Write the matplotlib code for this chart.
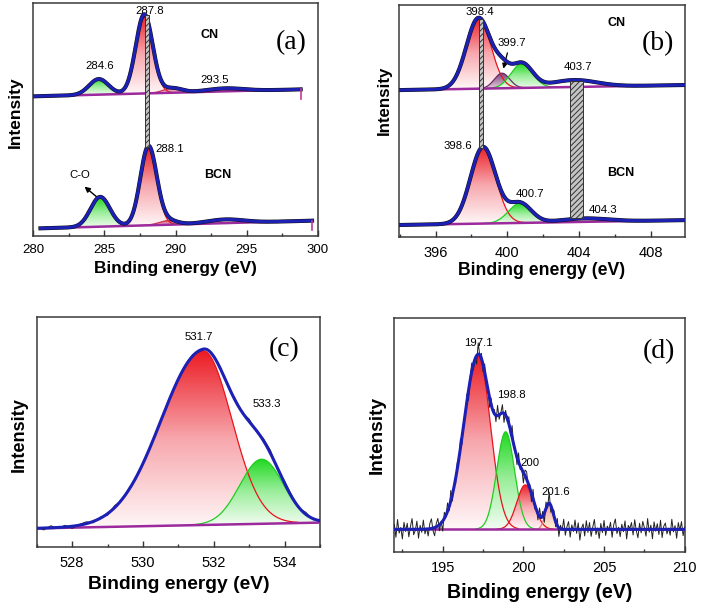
import numpy as np
import matplotlib.pyplot as plt
from matplotlib.colors import LinearSegmentedColormap
from matplotlib.patches import Polygon, Rectangle
from matplotlib.ticker import MultipleLocator

plt.rcParams['font.family'] = ['Liberation Sans', 'DejaVu Sans']
plt.rcParams['hatch.linewidth'] = 0.7

# (a) C 1s -- fitted components: position (eV), height, fwhm
a_cn_pos = [284.6, 287.8, 289.8, 293.5]
a_cn_height = [6.7, 34.0, 2.0, 1.3]
a_cn_fwhm = [1.6, 1.4, 1.5, 3.0]
a_cn_base = [60.0, 63.0]
a_cn_span = [280.0, 298.8]

a_bcn_pos = [284.7, 288.1, 289.5, 293.5]
a_bcn_height = [12.8, 34.0, 1.8, 1.6]
a_bcn_fwhm = [1.6, 1.35, 1.5, 3.0]
a_bcn_base = [3.3, 6.6]
a_bcn_span = [280.5, 299.6]

# (b) N 1s
b_cn_pos = [398.4, 399.7, 400.8, 403.7]
b_cn_height = [30.5, 6.5, 10.5, 3.0]
b_cn_fwhm = [1.6, 1.0, 1.4, 3.0]
b_cn_base = [63.4, 65.6]
b_cn_span = [393.95, 409.9]

b_bcn_pos = [398.65, 400.7, 404.3]
b_bcn_height = [33.0, 8.5, 1.5]
b_bcn_fwhm = [1.65, 1.5, 3.0]
b_bcn_base = [5.3, 7.4]
b_bcn_span = [393.95, 409.9]

# (c) O 1s (asymmetric main line)
c_pos = [531.7, 533.35]
c_height = [75.5, 28.0]
c_fwhm_left = [2.8, 1.45]
c_fwhm_right = [1.9, 1.45]
c_base = [8.2, 10.7]
c_span = [527.0, 535.0]
c_noise = [0.6, -0.8, 0.9, -0.4, 0.7, -0.9, 0.3, 0.8, -0.6, 0.5,
           -0.7, 0.9, -0.3, 0.6, -0.5, 0.4, -0.6, 0.3, 0.2, -0.4,
           0.5, -0.3, 0.6, -0.5, 0.4, -0.2, 0.7, -0.6, 0.8, -0.4,
           1.1, -0.5, 0.9, 1.3, -0.6, 1.0, 0.7, -0.4, 0.9, -0.5, 0.6]

# (d) B 1s
d_pos = [197.2, 198.9, 200.12, 201.6]
d_height = [74.5, 41.7, 19.0, 10.8]
d_fwhm_left = [2.1, 1.3, 1.25, 0.6]
d_fwhm_right = [1.77, 1.3, 1.25, 0.6]
d_base = [9.8, 9.8]
d_span = [192.0, 210.0]
d_noise = [2.1, -3.4, 4.2, -1.6, 0.8, -4.1, 3.0, -0.9, 2.6, -3.2,
           1.2, 4.6, -2.3, -0.5, 3.5, -3.8, 1.7, -1.3, 3.9, -2.0,
           0.4, -3.0, 2.2, 4.1, -1.1, -3.5, 1.4, 3.2, -2.6, 0.8,
           -4.3, 2.6, -0.6, 3.6, -1.8, 4.5, -2.8, 1.1, -2.2, 2.7,
           -1.0, 4.0, -3.4, 1.9, -1.4, 3.1, -4.4, 1.5, 3.7, -2.4,
           0.7, -3.6, 4.8, -0.3, 2.3, -3.1, 3.4, -1.6, 0.9, -4.2,
           2.8, -0.7, 1.8, -2.7, 4.4, -1.9, 0.3, 3.5, -3.9, 2.0,
           -1.2, 3.0, -2.3, 5.0, -0.8, 1.3, -3.2, 3.9, -1.5, 0.5,
           -4.5, 2.4, 3.2, -1.1, 1.6, -3.5, 4.1, -2.0, 1.2, -2.7,
           3.6, -0.4, 2.1, -4.0, 2.7, -1.6, 4.7, -2.9, 0.8, 2.5,
           -2.1, 3.1, -3.7, 1.5, -0.5, 4.3, -2.5, 1.1, 3.3, -3.3,
           1.9, -0.9, 4.0, -1.7, 2.8, -4.6, 0.4, 2.3, -2.8, 3.7,
           -1.3, 2.9, -3.0, 1.0, 4.2, -2.2, 0.6, -3.9, 2.5, -1.4,
           3.8, -2.6, 1.4, -0.2, 3.0, -3.4, 2.0, 4.4, -1.8, 0.9,
           -3.1, 2.2, -1.0, 3.6, -4.1, 1.7, 0.3, 2.9, -2.4, 4.1,
           -0.6, -3.6, 2.6, -1.5, 3.4, 0.7, -2.9, 4.6, -1.2, 1.8,
           -4.0, 3.2, -0.8, 2.4, -2.2, 3.9, -3.5, 1.3, 2.7, -1.9,
           0.5, -2.5, 4.3, -1.1, 1.6, -3.8, 2.9, -0.4, 3.3, -2.7,
           1.0]

FILLS = {
    'red': ('#fff7f8', '#f7a8ae', '#ec1c24'),
    'green': ('#f3fdf3', '#9cee9c', '#1ed81e'),
    'mauve': ('#e9d3e4', '#7c3f77'),
    'rose': ('#fdeef0', '#d2405a'),
    'peach': ('#fff4d6', '#f6a0a0'),
}
EDGE = {'red': '#e8141c', 'green': '#22cc22', 'mauve': '#6a2f66',
        'rose': '#d03050', 'peach': '#f07080'}
BLUE = '#1c20b4'


def peak(x, pos, height, fwhm_l, fwhm_r):
    sig = np.where(x < pos, fwhm_l, fwhm_r) / 2.3548
    return height * np.exp(-0.5 * ((x - pos) / sig) ** 2)


def model(x, base, span, pos, height, fwhm_l, fwhm_r):
    bg = base[0] + (base[1] - base[0]) * (x - span[0]) / (span[1] - span[0])
    comps = [peak(x, p, h, wl, wr) for p, h, wl, wr in zip(pos, height, fwhm_l, fwhm_r)]
    return bg, comps, bg + np.sum(comps, axis=0)


def draw_spectrum(ax, span, base, pos, height, fwhm_l, fwhm_r, fills,
                  noise=None, end_tick=False):
    x = np.linspace(span[0], span[1], 800)
    bg, comps, total = model(x, base, span, pos, height, fwhm_l, fwhm_r)
    for y, h, f in zip(comps, height, fills):
        if f is None:
            continue
        keep = y > 0.004 * h
        xs, lo, hi = x[keep], bg[keep], bg[keep] + y[keep]
        verts = np.column_stack([np.r_[xs, xs[::-1]], np.r_[hi, lo[::-1]]])
        patch = Polygon(verts, closed=True, fc='none', ec='none')
        ax.add_patch(patch)
        cmap = LinearSegmentedColormap.from_list(f, FILLS[f])
        img = ax.imshow(np.linspace(0, 1, 256).reshape(-1, 1), cmap=cmap,
                        origin='lower', aspect='auto', interpolation='bilinear',
                        extent=[xs[0], xs[-1], lo.min(), hi.max()], zorder=2)
        img.set_clip_path(patch)
        ax.plot(xs, hi, color=EDGE[f], lw=0.9, zorder=3)
    ax.plot(x, bg, color='#9c2a9c', lw=1.8, zorder=3.5)
    if noise is None:
        ax.plot(x, total, color='#111111', lw=2.9, zorder=4)
    else:
        xn = np.linspace(span[0], span[1], len(noise))
        raw = model(xn, base, span, pos, height, fwhm_l, fwhm_r)[2] + np.array(noise)
        ax.plot(xn, raw, color='#222222', lw=0.7, zorder=4)
    ax.plot(x, total, color=BLUE, lw=2.2, zorder=5)
    if end_tick:
        ax.plot([span[1], span[1]], [bg[-1], bg[-1] - 4], color='#c03a9a', lw=1.2, zorder=5)


def total_at(xv, base, span, pos, height, fwhm):
    return model(np.array([xv]), base, span, pos, height, fwhm, fwhm)[2][0]


def hatch_bar(ax, x0, x1, y0, y1):
    ax.add_patch(Rectangle((x0, y0), x1 - x0, y1 - y0, facecolor='#c4c4c4',
                           edgecolor='#333333', hatch='//////', lw=0.7, zorder=6))


fig = plt.figure(figsize=(7.03, 6.11), dpi=100)
ax_a = fig.add_axes([0.0474, 0.6137, 0.4046, 0.381])
ax_b = fig.add_axes([0.5671, 0.6116, 0.4077, 0.380])
ax_c = fig.add_axes([0.0522, 0.1043, 0.4030, 0.3774])
ax_d = fig.add_axes([0.5609, 0.0961, 0.4131, 0.3830])

# (a)
draw_spectrum(ax_a, a_cn_span, a_cn_base, a_cn_pos, a_cn_height, a_cn_fwhm, a_cn_fwhm,
              ['green', 'red', 'rose', None], end_tick=True)
draw_spectrum(ax_a, a_bcn_span, a_bcn_base, a_bcn_pos, a_bcn_height, a_bcn_fwhm, a_bcn_fwhm,
              ['green', 'red', 'rose', None], end_tick=True)
hatch_bar(ax_a, a_cn_pos[1] + 0.07, a_bcn_pos[1] + 0.02,
          total_at(a_bcn_pos[1], a_bcn_base, a_bcn_span, a_bcn_pos, a_bcn_height, a_bcn_fwhm) - 0.5,
          total_at(a_cn_pos[1], a_cn_base, a_cn_span, a_cn_pos, a_cn_height, a_cn_fwhm) - 0.5)
ax_a.text(288.2, 96.7, '287.8', fontsize=8.2, ha='center', va='center')
ax_a.text(292.36, 86.4, 'CN', fontsize=9, fontweight='bold', ha='center', va='center')
ax_a.text(284.69, 73.0, '284.6', fontsize=8.2, ha='center', va='center')
ax_a.text(292.78, 67.0, '293.5', fontsize=8.2, ha='center', va='center')
ax_a.text(289.6, 37.4, '288.1', fontsize=8.2, ha='center', va='center')
ax_a.text(293.0, 26.2, 'BCN', fontsize=9, fontweight='bold', ha='center', va='center')
ax_a.text(283.28, 26.2, 'C-O', fontsize=8.2, ha='center', va='center')
ax_a.annotate('', xy=(283.45, 22.0), xytext=(284.75, 15.3),
              arrowprops=dict(arrowstyle='-|>', color='k', lw=1.0, mutation_scale=8))

# (b)
draw_spectrum(ax_b, b_cn_span, b_cn_base, b_cn_pos, b_cn_height, b_cn_fwhm, b_cn_fwhm,
              ['red', 'mauve', 'green', None])
draw_spectrum(ax_b, b_bcn_span, b_bcn_base, b_bcn_pos, b_bcn_height, b_bcn_fwhm, b_bcn_fwhm,
              ['red', 'green', None])
hatch_bar(ax_b, b_cn_pos[0] + 0.02, b_bcn_pos[0] + 0.02,
          total_at(b_bcn_pos[0], b_bcn_base, b_bcn_span, b_bcn_pos, b_bcn_height, b_bcn_fwhm) - 0.5,
          total_at(b_cn_pos[0], b_cn_base, b_cn_span, b_cn_pos, b_cn_height, b_cn_fwhm) - 0.5)
hatch_bar(ax_b, b_cn_pos[3] - 0.22, b_bcn_pos[2] - 0.1,
          total_at(b_bcn_pos[2], b_bcn_base, b_bcn_span, b_bcn_pos, b_bcn_height, b_bcn_fwhm),
          total_at(b_cn_pos[3], b_cn_base, b_cn_span, b_cn_pos, b_cn_height, b_cn_fwhm) - 0.5)
ax_b.text(398.46, 97.1, '398.4', fontsize=8.2, ha='center', va='center')
ax_b.text(406.06, 92.1, 'CN', fontsize=9, fontweight='bold', ha='center', va='center')
ax_b.text(400.22, 83.8, '399.7', fontsize=8.2, ha='center', va='center')
ax_b.annotate('', xy=(399.74, 71.5), xytext=(400.04, 80.6),
              arrowprops=dict(arrowstyle='-|>', color='k', lw=0.9, mutation_scale=7))
ax_b.text(403.93, 73.4, '403.7', fontsize=8.2, ha='center', va='center')
ax_b.text(397.22, 39.4, '398.6', fontsize=8.2, ha='center', va='center')
ax_b.text(406.33, 27.5, 'BCN', fontsize=9, fontweight='bold', ha='center', va='center')
ax_b.text(401.24, 18.6, '400.7', fontsize=8.2, ha='center', va='center')
ax_b.text(405.31, 11.8, '404.3', fontsize=8.2, ha='center', va='center')

# (c)
draw_spectrum(ax_c, c_span, c_base, c_pos, c_height, c_fwhm_left, c_fwhm_right,
              ['red', 'green'], noise=c_noise)
ax_c.text(531.58, 91.3, '531.7', fontsize=8.2, ha='center', va='center')
ax_c.text(533.49, 62.1, '533.3', fontsize=8.2, ha='center', va='center')

# (d)
draw_spectrum(ax_d, d_span, d_base, d_pos, d_height, d_fwhm_left, d_fwhm_right,
              ['red', 'green', 'red', 'peach'], noise=d_noise)
ax_d.text(197.19, 89.3, '197.1', fontsize=8.2, ha='center', va='center')
ax_d.text(199.25, 67.2, '198.8', fontsize=8.2, ha='center', va='center')
ax_d.text(200.43, 38.0, '200', fontsize=8.2, ha='center', va='center')
ax_d.text(201.98, 25.9, '201.6', fontsize=8.2, ha='center', va='center')

panels = [
    (ax_a, (280, 300), 5, 2.5, 9.5, 12.4, -0.1375, 12.5, (-0.062, 0.53), '(a)', (0.905, 0.83)),
    (ax_b, (393.95, 409.9), 4, 2, 10.5, 12.7, -0.141, 12.2, (-0.05, 0.59), '(b)', (0.905, 0.835)),
    (ax_c, (527, 535), 2, 1, 10.5, 13.9, -0.163, 13.1, (-0.06, 0.49), '(c)', (0.875, 0.856)),
    (ax_d, (192, 210), 5, 2.5, 10.5, 14.1, -0.173, 13.7, (-0.06, 0.50), '(d)', (0.91, 0.857)),
]
for ax, xlim, major, minor, tick_fs, xl_fs, xl_y, yl_fs, yl_xy, tag, tag_xy in panels:
    ax.set_xlim(*xlim)
    ax.set_ylim(0, 100)
    ax.xaxis.set_major_locator(MultipleLocator(major))
    ax.xaxis.set_minor_locator(MultipleLocator(minor))
    ax.tick_params(which='both', direction='in', top=False, right=False, left=False,
                   labelleft=False, width=1.0, color='#333333')
    ax.tick_params(which='major', length=4, labelsize=tick_fs, pad=6)
    ax.tick_params(which='minor', length=2.5)
    ax.set_yticks([])
    for s in ax.spines.values():
        s.set_linewidth(1.1)
        s.set_color('#3a3a3a')
    ax.set_xlabel('Binding energy (eV)', fontsize=xl_fs, fontweight='bold', va='center')
    ax.xaxis.set_label_coords(0.5, xl_y)
    ax.set_ylabel('Intensity', fontsize=yl_fs, fontweight='bold', va='center')
    ax.yaxis.set_label_coords(*yl_xy)
    ax.text(*tag_xy, tag, transform=ax.transAxes, fontsize=20, family='Liberation Serif',
            ha='center', va='center')

fig.savefig('out.png', dpi=100)
